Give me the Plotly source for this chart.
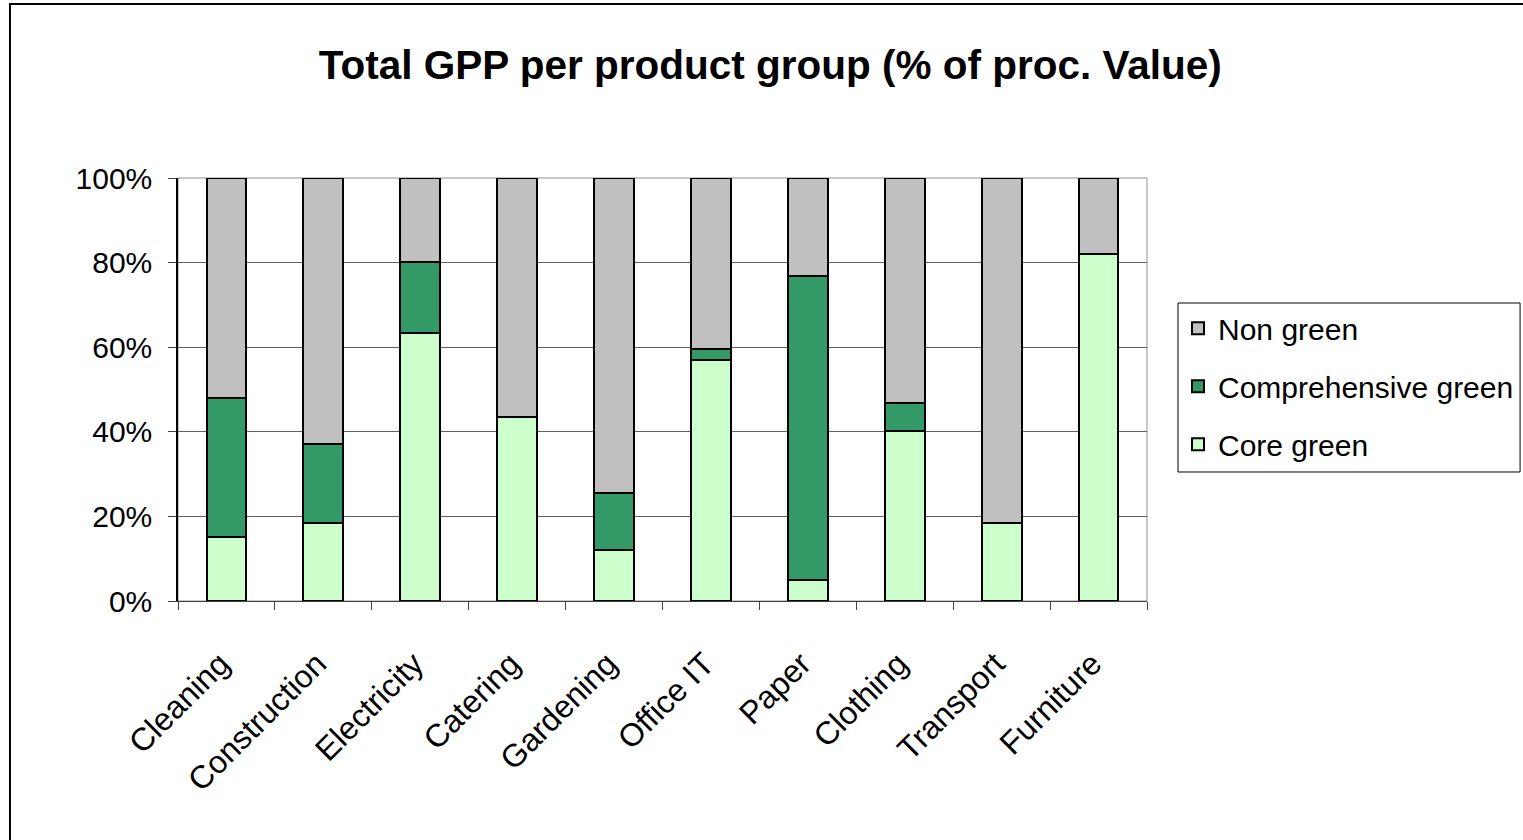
import plotly.graph_objects as go

categories = ["Cleaning", "Construction", "Electricity", "Catering", "Gardening",
              "Office IT", "Paper", "Clothing", "Transport", "Furniture"]
core_green = [15.2, 18.5, 63.4, 43.5, 12.1, 56.9, 5.0, 40.2, 18.5, 82.0]
comprehensive_green = [32.7, 18.5, 16.7, 0.0, 13.4, 2.6, 71.9, 6.5, 0.0, 0.0]
non_green = [round(100 - a - b, 1) for a, b in zip(core_green, comprehensive_green)]

FONT = "Liberation Sans, Arial, sans-serif"

# (name, values, colour, legend rank)
series = [
    ("Core green", core_green, "#CCFFCC", 3),
    ("Comprehensive green", comprehensive_green, "#339966", 2),
    ("Non green", non_green, "#C0C0C0", 1),
]

fig = go.Figure()
for name, vals, color, rank in series:
    fig.add_trace(go.Bar(
        x=categories, y=vals, name=name, legendgroup=name, legendrank=rank,
        marker=dict(color=color, line=dict(color="black", width=2)),
        width=0.41,
    ))

# figure a bit wider than the window so the legend fits in the right margin
# without pushing the plot area; page overflow is hidden in the html
fig.update_layout(
    barmode="stack",
    width=1553, height=840,
    margin=dict(l=178, r=406, t=178, b=239),
    paper_bgcolor="white", plot_bgcolor="white",
    font=dict(family=FONT, size=30, color="black"),
    title=dict(text="<b>Total GPP per product group (% of proc. Value)</b>",
               x=0.496, xanchor="center", y=0.9226, yanchor="middle",
               font=dict(family=FONT, size=40.5, color="black")),
    legend=dict(x=1.032, xanchor="left", y=0.706, yanchor="top",
                traceorder="grouped", tracegroupgap=16,
                borderwidth=0, bgcolor="rgba(0,0,0,0)",
                font=dict(family=FONT, size=30), itemwidth=30),
    showlegend=True,
)

fig.update_xaxes(
    type="category", tickmode="array", tickvals=categories,
    ticktext=[c + "\u00a0" for c in categories],
    tickangle=-45, ticks="outside", tickson="boundaries",
    ticklen=8, tickcolor="#404040", showline=True, linecolor="#404040", linewidth=1,
    showgrid=False, tickfont=dict(size=32), ticklabelstandoff=24,
)
fig.update_yaxes(
    range=[0, 100], tickvals=[0, 20, 40, 60, 80, 100],
    ticktext=["0%", "20%", "40%", "60%", "80%", "100%"],
    ticks="outside", ticklen=8, tickcolor="#404040",
    showline=True, linecolor="black", linewidth=1.5,
    showgrid=True, gridcolor="#606060", gridwidth=1,
    tickfont=dict(size=30), zeroline=False, ticklabelstandoff=10,
)

# plot area border (gray), legend box and outer chart frame
fig.add_shape(type="rect", xref="paper", yref="paper", x0=0, x1=1, y0=0, y1=1,
              line=dict(color="#909090", width=1), layer="below")
fig.add_shape(type="rect", xref="paper", yref="paper",
              x0=1.032, x1=1.385, y0=0.305, y1=0.7045,
              line=dict(color="black", width=1))
fig.add_shape(type="rect", xref="paper", yref="paper",
              x0=-0.1734, x1=1.5, y0=-0.7, y1=1.4113,
              line=dict(color="black", width=2))

fig.write_html(
    "out.html",
    config={"displayModeBar": False},
    post_script="document.body.style.margin='0';document.body.style.overflow='hidden';",
)
